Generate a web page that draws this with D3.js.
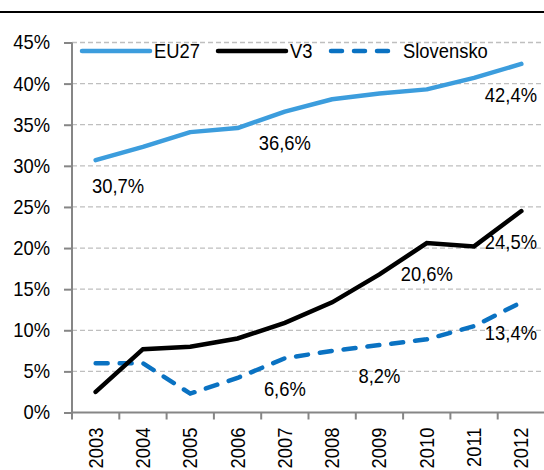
<!DOCTYPE html>
<html lang="sk">
<head>
<meta charset="UTF-8">
<title>EU27, V3, Slovensko</title>
<script src="https://d3js.org/d3.v7.min.js"></script>
<style>
    body { margin: 0; background: #fff; }
    svg { display: block; font-family: Arial, "Liberation Sans", sans-serif; }
    .grid line { stroke: #bfbfbf; stroke-width: 1.3; stroke-dasharray: 5,3; }
    .axis path, .axis line { stroke: #868686; stroke-width: 2; }
    .axis text { font-size: 20px; fill: #000; }
    .lbl { font-size: 20px; fill: #000; }
</style>
</head>
<body>
<div id="chart"></div>
<script>
    // data
    const years = ["2003", "2004", "2005", "2006", "2007", "2008", "2009", "2010", "2011", "2012"];
    const eu27 = [30.7, 32.3, 34.1, 34.6, 36.6, 38.1, 38.8, 39.3, 40.7, 42.4];
    const v3 = [2.5, 7.7, 8.0, 9.0, 10.9, 13.4, 16.8, 20.6, 20.2, 24.5];
    const slovensko = [6.0, 6.0, 2.3, 4.2, 6.6, 7.5, 8.2, 8.9, 10.5, 13.4];
    const yTicks = [0, 5, 10, 15, 20, 25, 30, 35, 40, 45];

    // which points get a value label, per series
    const eu27Labels = ["2003", "2007", "2012"];
    const v3Labels = ["2010", "2012"];
    const skLabels = ["2007", "2009", "2012"];

    const W = 544, H = 470;
    const m = { left: 72, top: 42.5, bottom: 412.5, right: 545 };
    const sx = 0.92; // the original font is a little narrower than Arial

    const svg = d3.select("#chart").append("svg")
        .attr("width", W).attr("height", H);

    // top rule
    svg.append("line")
        .attr("x1", 0).attr("x2", W).attr("y1", 12).attr("y2", 12)
        .attr("stroke", "#000").attr("stroke-width", 2);

    const x = d3.scaleBand().domain(years).range([m.left, m.right]);
    const y = d3.scaleLinear().domain([0, 45]).range([m.bottom, m.top]);
    const cx = d => x(d) + x.bandwidth() / 2;

    // gridlines
    svg.append("g").attr("class", "grid")
        .selectAll("line")
        .data(yTicks.filter(d => d > 0))
        .join("line")
        .attr("x1", m.left).attr("x2", W)
        .attr("y1", d => y(d)).attr("y2", d => y(d));

    // y axis
    const yAxis = svg.append("g").attr("class", "axis")
        .attr("transform", `translate(${m.left},0)`)
        .call(d3.axisLeft(y).tickValues(yTicks).tickSize(8).tickPadding(14)
            .tickFormat(d => d + "%"));
    yAxis.select(".domain").attr("d", `M0,${m.top}V${m.bottom + 7}`);
    yAxis.selectAll(".tick text")
        .attr("x", 0)
        .attr("transform", `translate(-22,0) scale(${sx},1)`);

    // x axis, ticks on category boundaries
    const xg = svg.append("g").attr("class", "axis")
        .attr("transform", `translate(0,${m.bottom})`);
    xg.append("line").attr("x1", m.left).attr("x2", W).attr("y1", 0).attr("y2", 0);
    xg.selectAll(".tk")
        .data(years.slice(1))
        .join("line")
        .attr("class", "tk")
        .attr("x1", d => x(d)).attr("x2", d => x(d))
        .attr("y1", 0).attr("y2", 7);
    xg.selectAll("text")
        .data(years)
        .join("text")
        .attr("transform", d => `translate(${cx(d) + 7},15) rotate(-90) scale(${sx},1)`)
        .attr("text-anchor", "end")
        .text(d => d);

    const line = d3.line().x((d, i) => cx(years[i])).y(d => y(d));

    svg.append("path").datum(eu27)
        .attr("d", line).attr("fill", "none")
        .attr("stroke", "#3c9ddd").attr("stroke-width", 4.5)
        .attr("stroke-linejoin", "round").attr("stroke-linecap", "round");

    svg.append("path").datum(slovensko)
        .attr("d", line).attr("fill", "none")
        .attr("stroke", "#0a72c2").attr("stroke-width", 4.5)
        .attr("stroke-dasharray", "12,12")
        .attr("stroke-linecap", "round");

    svg.append("path").datum(v3)
        .attr("d", line).attr("fill", "none")
        .attr("stroke", "#000").attr("stroke-width", 4.5)
        .attr("stroke-linejoin", "miter").attr("stroke-linecap", "round");

    // value labels, below the point, kept inside the plot
    function addLabels(vals, picks) {
        picks.forEach(yr => {
            const i = years.indexOf(yr);
            const t = svg.append("text").attr("class", "lbl")
                .attr("text-anchor", "middle")
                .text(vals[i].toFixed(1).replace(".", ",") + "%");
            const w = t.node().getComputedTextLength() * sx;
            let mid = cx(yr);
            if (mid - w / 2 < m.left + 20) mid = m.left + 20 + w / 2;
            if (mid + w / 2 > W - 7) mid = W - 7 - w / 2;
            const ty = y(vals[i]) + (i === 0 ? 33 : 38);
            t.attr("transform", `translate(${mid},${ty}) scale(${sx},1)`);
        });
    }
    addLabels(eu27, eu27Labels);
    addLabels(v3, v3Labels);
    addLabels(slovensko, skLabels);

    // legend
    const legend = [
        { name: "EU27", color: "#3c9ddd", dash: null, x0: 82 },
        { name: "V3", color: "#000", dash: null, x0: 218 },
        { name: "Slovensko", color: "#0a72c2", dash: "11,12", x0: 331 }
    ];
    const lg = svg.append("g");
    legend.forEach(l => {
        lg.append("line")
            .attr("x1", l.x0).attr("x2", l.x0 + 68)
            .attr("y1", 51).attr("y2", 51)
            .attr("stroke", l.color).attr("stroke-width", 4.5)
            .attr("stroke-dasharray", l.dash)
            .attr("stroke-linecap", "round");
        lg.append("text").attr("class", "lbl")
            .attr("transform", `translate(${l.x0 + 72},58) scale(${sx},1)`)
            .text(l.name);
    });
</script>
</body>
</html>
